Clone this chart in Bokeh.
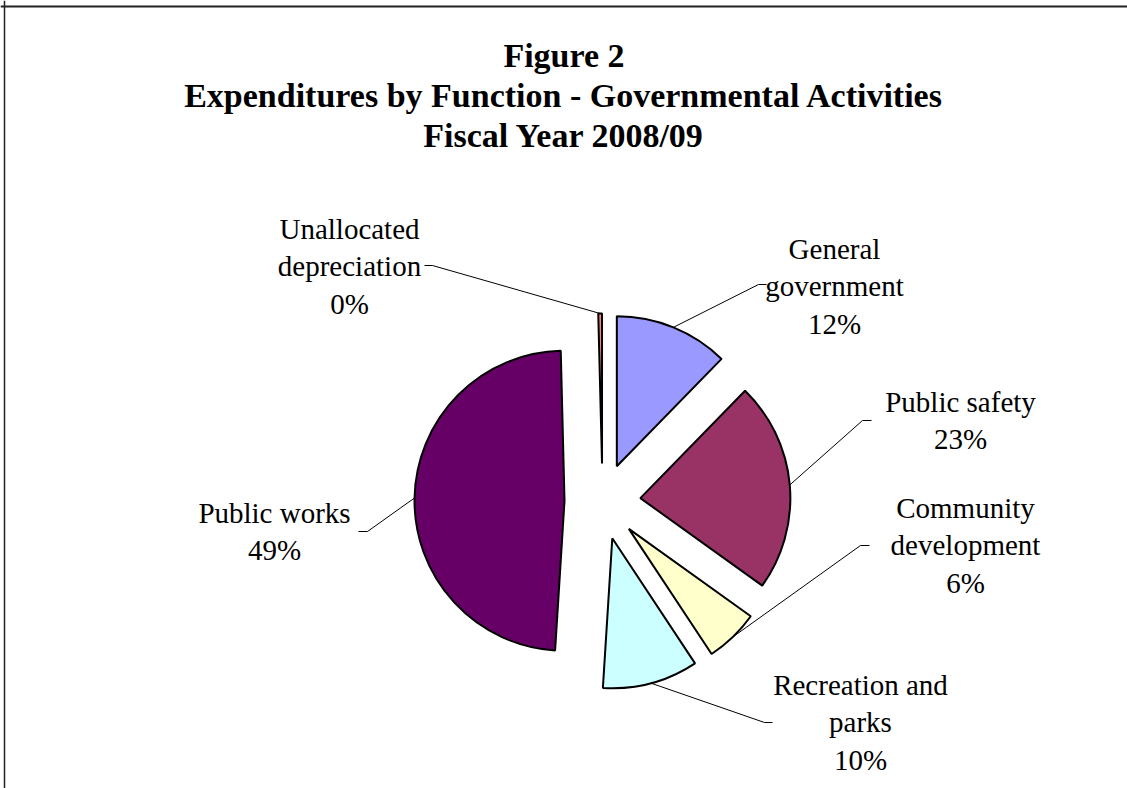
import math
from bokeh.plotting import figure
from bokeh.models import Range1d, Span
from bokeh.core.properties import value
from bokeh.embed import file_html
from bokeh.resources import INLINE

# ---------------- data ----------------
categories = ["General government", "Public safety", "Community development",
              "Recreation and parks", "Public works", "Unallocated depreciation"]
shares = [12.3, 22.6, 5.8, 10.3, 48.6, 0.4]   # percent of total
colors = ["#9999FF", "#993366", "#FFFFCC", "#CCFFFF", "#660066", "#FF8080"]
label_lines = [["General", "government"], ["Public safety"], ["Community", "development"],
               ["Recreation and", "parks"], ["Public works"], ["Unallocated", "depreciation"]]
title_lines = ["Figure 2", "Expenditures by Function - Governmental Activities", "Fiscal Year 2008/09"]

# ---------------- layout (pixel coords, y downward) ----------------
W, H = 1127, 788
CX, CY = 602, 501      # pie centre
R = 150                # radius
EXPLODE = 38           # explosion offset
LINE_GAP = 37.5
label_x = [834, 960, 965, 860, 274, 349]
label_y0 = [248, 401, 507, 684, 512, 228]
# leader tail: (x_near_label, x_elbow, y)
leader_tail = [(766, 758, 284), (871, 862, 420), (869, 860, 545),
               (772, 764, 722), (358, 367, 531), (424, 432, 265)]
FONT = "Liberation Serif"

def fy(y):
    return H - y

p = figure(width=W, height=H, x_range=Range1d(0, W), y_range=Range1d(0, H),
           output_backend="svg", toolbar_location=None, min_border=0)
p.axis.visible = False
p.grid.visible = False
p.outline_line_color = None
p.background_fill_color = "white"
p.border_fill_color = "white"

# frame
p.add_layout(Span(location=fy(6), dimension="width", line_color="#222222", line_width=2))
p.add_layout(Span(location=4, dimension="height", line_color="#222222", line_width=1.5))

# wedges
total = sum(shares)
xs, ys, starts, ends, mids = [], [], [], [], []
cum = 0.0
for s in shares:
    a0 = 90 - cum / total * 360
    a1 = a0 - s / total * 360
    cum += s
    m = math.radians((a0 + a1) / 2)
    mids.append(m)
    xs.append(CX + EXPLODE * math.cos(m))
    ys.append(fy(CY) + EXPLODE * math.sin(m))
    starts.append(math.radians(a1))
    ends.append(math.radians(a0))

p.wedge(x=xs, y=ys, radius=R, start_angle=starts, end_angle=ends,
        direction="anticlock", fill_color=colors, line_color="black", line_width=2)

# leader lines
lx, ly = [], []
for i in range(len(shares)):
    ax = xs[i] + R * math.cos(mids[i])
    ay = ys[i] + R * math.sin(mids[i])
    tx, ex, ty = leader_tail[i]
    lx.append([ax, ex, tx])
    ly.append([ay, fy(ty), fy(ty)])
p.multi_line(xs=lx, ys=ly, line_color="black", line_width=1)

# labels
tx_, ty_, tt_ = [], [], []
for i, lines in enumerate(label_lines):
    pct = f"{round(shares[i] / total * 100):.0f}%"
    for j, t in enumerate(lines + [pct]):
        tx_.append(label_x[i])
        ty_.append(fy(label_y0[i] + j * LINE_GAP))
        tt_.append(t)
p.text(x=tx_, y=ty_, text=tt_, text_align="center", text_baseline="middle",
       text_font=value(FONT), text_font_size="29px", text_color="black")

# title
p.text(x=[W / 2 + 0] * 3, y=[fy(55), fy(95), fy(135)], text=title_lines,
       text_align="center", text_baseline="middle", text_font=value(FONT),
       text_font_size="34px", text_font_style="bold", text_color="black")

open("out.html", "w").write(file_html(p, INLINE))
